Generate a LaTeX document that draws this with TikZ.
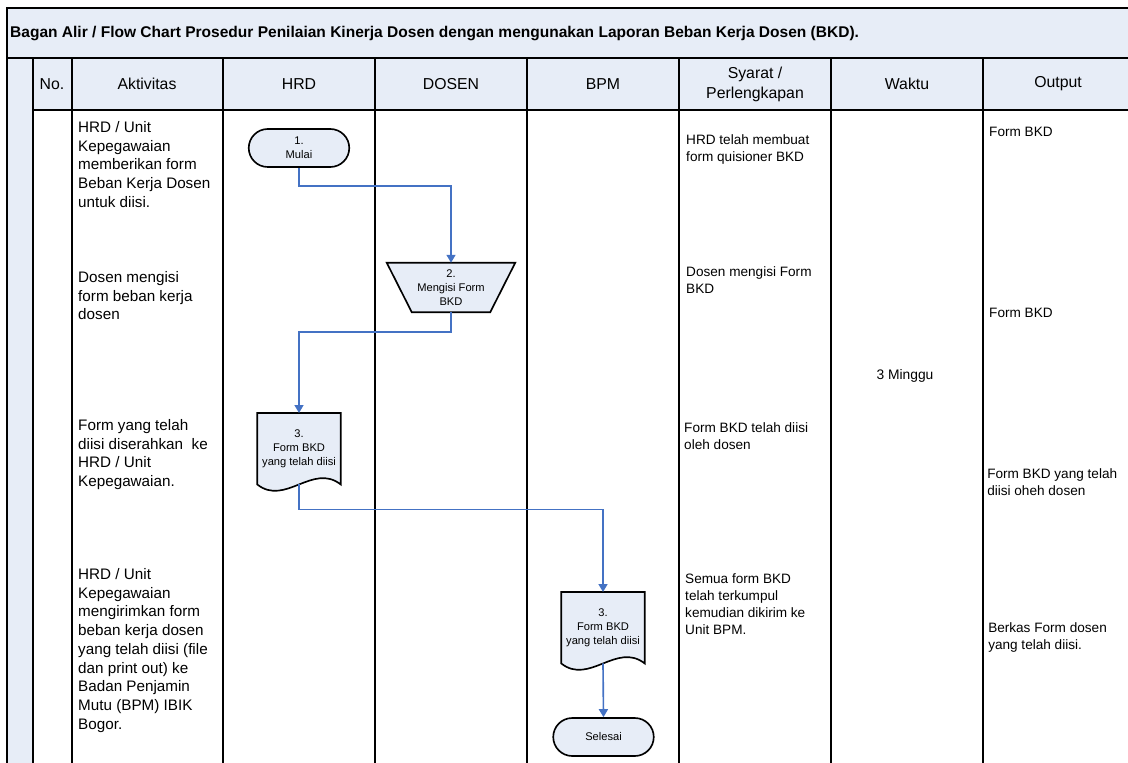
\documentclass[tikz,border=0pt]{standalone}
\usepackage{fontspec}
\setmainfont{Liberation Sans}
\usepackage{tikz}
\usetikzlibrary{arrows.meta,positioning,shapes.misc,calc}
\definecolor{laneblue}{RGB}{231,237,247}
\definecolor{flowblue}{RGB}{68,114,196}
\pgfdeclarelayer{bg}
\pgfsetlayers{bg,main}
\newcommand{\docpath}[1]{(#1.north west) -- (#1.north east) -- (#1.south east)
  .. controls +(-28,-22) and +(28,22) .. (#1.south west) -- cycle}
\newcommand{\manualpath}[1]{(#1.north west) -- (#1.north east)
  -- ([xshift=-0.75cm]#1.south east) -- ([xshift=0.75cm]#1.south west) -- cycle}

\begin{document}
\begin{tikzpicture}[
    x = 0.03cm,
    y = -0.03cm,
    grid/.style =
    { draw,
      line width = 1.3pt },
    head/.style =
    { align = center,
      font  = \fontsize{13.5}{17}\selectfont },
    act/.style =
    { align     = left,
      anchor    = north west,
      inner sep = 0pt,
      font      = \fontsize{13}{16}\selectfont },
    req/.style =
    { align     = left,
      anchor    = north west,
      inner sep = 0pt,
      font      = \fontsize{11.6}{14.5}\selectfont },
    terminal/.style =
    { shape          = rounded rectangle,
      draw,
      fill           = laneblue,
      line width     = 1.4pt,
      align          = center,
      font           = \fontsize{9.5}{12}\selectfont,
      minimum width  = 3.25cm,
      minimum height = 1.14cm },
    document/.style =
    { align          = center,
      anchor         = north,
      font           = \fontsize{9.5}{12}\selectfont,
      minimum width  = 2.49cm,
      minimum height = 2.13cm },
    manual/.style =
    { align          = center,
      font           = \fontsize{9.5}{12}\selectfont,
      minimum width  = 3.84cm,
      minimum height = 1.47cm },
    outline/.style =
    { draw,
      fill       = laneblue,
      line width = 1.4pt },
    flow/.style =
    { draw       = flowblue,
      line width = 1.4pt,
      -{Triangle[length = 0.24cm, width = 0.27cm]} }
  ]
  \useasboundingbox (0,0) rectangle (1128,763);
  \clip (0,0) rectangle (1128,763);

  % table
  \fill[laneblue] (7,8) rectangle (1140,110);
  \fill[laneblue] (7,110) rectangle (33,770);
  \draw[grid] (1140,8) -- (7,8) -- (7,770);
  \draw[grid] (7,58) -- (1140,58);
  \draw[grid] (33,110) -- (1140,110);
  \foreach \x in {33,72,223,375,527,679,831,983}
    \draw[grid] (\x,58) -- (\x,770);

  \node[anchor = west, inner sep = 0pt, font = \fontsize{13.25}{15}\selectfont\bfseries] (title) at (10,34)
    {Bagan Alir / Flow Chart Prosedur Penilaian Kinerja Dosen dengan mengunakan Laporan Beban Kerja Dosen (BKD).};
  \foreach \x/\t [count = \i] in {52/No., 147/Aktivitas, 299/HRD, 451/DOSEN, 603/BPM,
      755/{Syarat /\\Perlengkapan}, 907/Waktu, 1058/Output}
    \node[head] (head\i) at (\x,84) {\t};

  % aktivitas
  \node[act] (act1) at (78,121) {HRD / Unit\\Kepegawaian\\memberikan form\\Beban Kerja Dosen\\untuk diisi.};
  \node[act] (act2) at (78,271) {Dosen mengisi\\form beban kerja\\dosen};
  \node[act] (act3) at (78,419) {Form yang telah\\diisi diserahkan\ \ ke\\HRD / Unit\\Kepegawaian.};
  \node[act] (act4) at (78,568) {HRD / Unit\\Kepegawaian\\mengirimkan form\\beban kerja dosen\\yang telah diisi (file\\dan print out) ke\\Badan Penjamin\\Mutu (BPM) IBIK\\Bogor.};

  % flow
  \node[terminal] (start) at (299,148) {1.\\Mulai};
  \node[manual] (fill) at (451,287.5) {2.\\Mengisi Form\\BKD};
  \node[document] (formhrd) at (299,413) {3.\\Form BKD\\yang telah diisi};
  \node[document] (formbpm) at (603,592) {3.\\Form BKD\\yang telah diisi};
  \node[terminal] (finish) at (603.5,737) {Selesai};
  \begin{pgfonlayer}{bg}
    \path[outline] \manualpath{fill};
    \path[outline] \docpath{formhrd};
    \path[outline] \docpath{formbpm};
  \end{pgfonlayer}

  \draw[flow] (start.south) -- ++(0,18) -| (fill.north);
  \draw[flow] (fill.south) -- ++(0,20) -| (formhrd.north);
  \draw[flow] (formhrd.south) -- ++(0,25) -| (formbpm.north);
  \draw[flow] (formbpm.south) -- (finish.north);

  % syarat
  \node[req] (req1) at (686,134) {HRD telah membuat\\form quisioner BKD};
  \node[req] (req2) at (686,266) {Dosen mengisi Form\\BKD};
  \node[req] (req3) at (684,422) {Form BKD telah diisi\\oleh dosen};
  \node[req] (req4) at (685,573) {Semua form BKD\\telah terkumpul\\kemudian dikirim ke\\Unit BPM.};

  % waktu
  \node[font = \fontsize{11.8}{14.5}\selectfont] (time) at (905,376) {3 Minggu};

  % output
  \node[req] (out1) at (989,127) {Form BKD};
  \node[req] (out2) at (989,308) {Form BKD};
  \node[req] (out3) at (987,468) {Form BKD yang telah\\diisi oheh dosen};
  \node[req] (out4) at (988,622) {Berkas Form dosen\\yang telah diisi.};
\end{tikzpicture}
\end{document}
